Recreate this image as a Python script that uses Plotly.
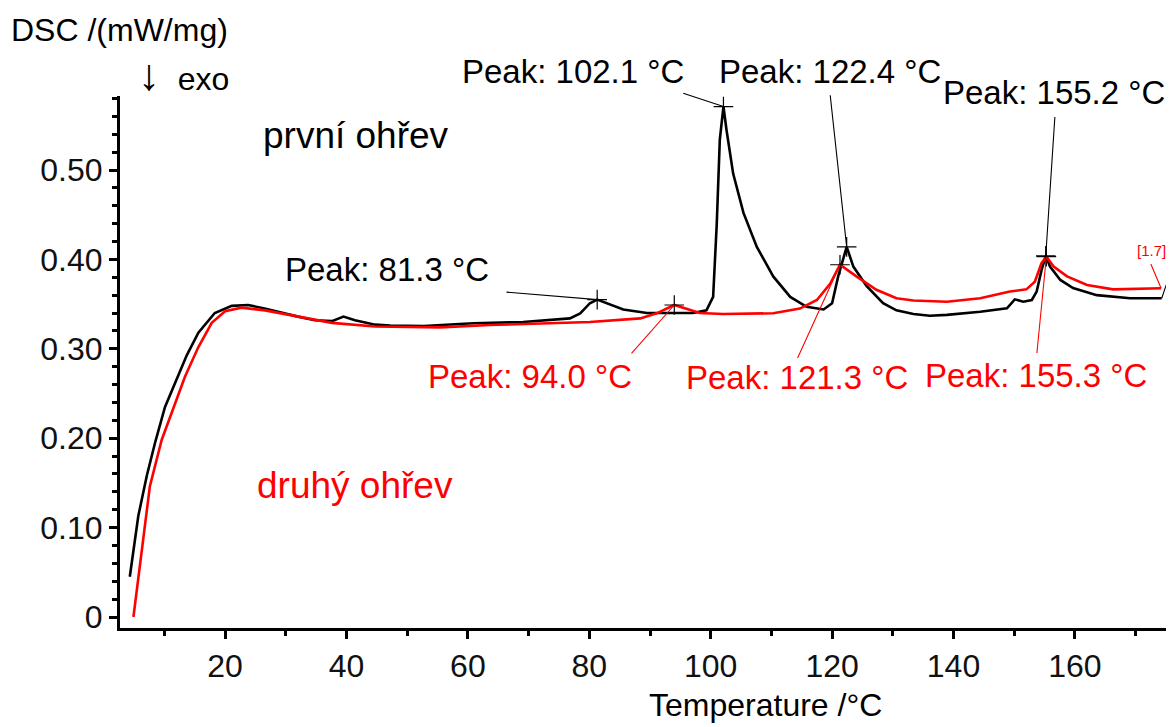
import plotly.graph_objects as go

# ---------------- data ----------------
black_T = [4.3, 5.7, 7.1, 8.5, 10.1, 11.8, 13.7, 15.6, 18.3, 21.1, 23.8, 26.5, 29.3, 32.0,
           34.8, 37.6, 39.5, 41.4, 44.7, 47.2, 52.7, 60.9, 69.1, 76.8, 78.5, 80.1, 81.3,
           82.9, 85.6, 89.5, 92.7, 97.1, 99.3, 100.4, 101.0, 101.5, 102.1, 102.6, 103.7,
           105.4, 107.6, 110.3, 113.1, 115.8, 118.6, 120.0, 121.0, 122.4, 123.5, 125.7,
           128.4, 130.6, 133.4, 136.1, 138.9, 144.4, 148.8, 150.1, 151.5, 152.9, 153.7,
           154.5, 155.2, 155.9, 157.6, 159.7, 163.6, 169.1, 174.3]
black_v = [0.045, 0.113, 0.158, 0.196, 0.235, 0.263, 0.293, 0.318, 0.340, 0.348, 0.349, 0.345,
           0.340, 0.336, 0.332, 0.331, 0.336, 0.332, 0.327, 0.326, 0.3255, 0.3285, 0.330,
           0.334, 0.3397, 0.351, 0.355, 0.351, 0.344, 0.340, 0.3397, 0.340, 0.343, 0.358,
           0.44, 0.534, 0.571, 0.545, 0.496, 0.452, 0.414, 0.381, 0.358, 0.347, 0.344,
           0.351, 0.381, 0.414, 0.392, 0.370, 0.351, 0.343, 0.339, 0.337, 0.338, 0.3415,
           0.3453, 0.3553, 0.3527, 0.3546, 0.364, 0.388, 0.404, 0.392, 0.377, 0.368, 0.360,
           0.3565, 0.3565]

red_T = [4.9, 6.3, 7.6, 9.55, 11.5, 13.4, 15.6, 17.8, 20.0, 22.7, 26.6, 32.1, 37.6, 44.7,
         47.2, 55.4, 63.6, 71.9, 80.1, 88.4, 91.1, 94.0, 96.0, 98.2, 102.0, 110.3, 114.7,
         117.5, 119.7, 121.3, 124.0, 127.3, 130.6, 133.4, 138.9, 144.4, 149.3, 152.0, 153.4,
         154.5, 155.3, 156.5, 158.7, 162.0, 166.3, 174.2]
red_v = [0.0, 0.079, 0.146, 0.198, 0.235, 0.269, 0.302, 0.329, 0.342, 0.346, 0.343, 0.336,
         0.329, 0.325, 0.3247, 0.324, 0.3266, 0.3285, 0.330, 0.334, 0.3397, 0.349, 0.345,
         0.340, 0.339, 0.3397, 0.345, 0.3546, 0.373, 0.394, 0.381, 0.366, 0.3565, 0.354,
         0.3527, 0.3565, 0.364, 0.3665, 0.375, 0.3957, 0.403, 0.392, 0.381, 0.3714,
         0.3665, 0.3677]

black_peak_T = [81.3, 102.1, 122.4, 155.2]
black_peak_v = [0.355, 0.571, 0.414, 0.404]
red_peak_T = [94.0, 121.3, 155.3]
red_peak_v = [0.349, 0.394, 0.403]

x_ticks = [20, 40, 60, 80, 100, 120, 140, 160]
y_ticks = [0, 0.10, 0.20, 0.30, 0.40, 0.50]
y_ticktext = ["0", "0.10", "0.20", "0.30", "0.40", "0.50"]

# -------------- layout geometry (reference-image pixels) --------------
OFF = 8                      # page body margin of the html page
REF_W, REF_H = 1174, 727
AX_L, AX_R, AX_T, AX_B = 120, 1174, 96, 628   # plot-area edges in reference pixels
W, H = REF_W - OFF, REF_H - OFF
L, R, T, B = AX_L - OFF, W - (AX_R - OFF), AX_T - OFF, H - (AX_B - OFF)


def px2T(px):
    return (px - 103.7) / 6.07


def py2v(py):
    return (617 - py) / 894


def T2px(t):
    return 103.7 + 6.07 * t


def v2py(v):
    return 617 - 894 * v


def pxx(px):
    return (px - AX_L) / (AX_R - AX_L)


def pyy(py):
    return (AX_B - py) / (AX_B - AX_T)


FONT = "Liberation Sans, Arial, sans-serif"
FS_TICK = 32
FS_PEAK = 33
FS_LBL = 37
FS_AX = 32

fig = go.Figure()
fig.add_trace(go.Scatter(x=black_T, y=black_v, mode="lines",
                         line=dict(color="black", width=2.6), hoverinfo="skip",
                         showlegend=False))
fig.add_trace(go.Scatter(x=red_T, y=red_v, mode="lines",
                         line=dict(color="#ff0000", width=2.6), hoverinfo="skip",
                         showlegend=False))
fig.add_trace(go.Scatter(x=black_peak_T + red_peak_T, y=black_peak_v + red_peak_v,
                         mode="markers",
                         marker=dict(symbol="cross-thin", size=14,
                                     line=dict(color="black", width=1.2)),
                         hoverinfo="skip", showlegend=False, cliponaxis=False))

annotations = []

# leader lines: arrow from a data point (tip) to the leader start (tail, pixels)
leaders = [
    (505, 292, black_peak_T[0], black_peak_v[0], "black"),
    (681.7, 92.7, black_peak_T[1], black_peak_v[1], "black"),
    (830, 93.3, black_peak_T[2], black_peak_v[2], "black"),
    (1055, 115, black_peak_T[3], black_peak_v[3], "black"),
    (630, 355, red_peak_T[0], red_peak_v[0], "#ff0000"),
    (796.7, 360, red_peak_T[1], red_peak_v[1], "#ff0000"),
    (1036.7, 355, red_peak_T[2], red_peak_v[2], "#ff0000"),
    (1150, 262, red_T[-1], red_v[-1], "#ff0000"),
    (1172, 268, black_T[-1], black_v[-1], "black"),
]
for sx, sy, pt, pv, c in leaders:
    annotations.append(dict(x=pt, y=pv, xref="x", yref="y", text=" ",
                            font=dict(size=1), showarrow=True, arrowhead=0,
                            arrowwidth=1.1, arrowcolor=c, standoff=0, startstandoff=0,
                            ax=sx - T2px(pt), ay=sy - v2py(pv)))


def add_text(txt, px, py, color="black", size=FS_PEAK):
    annotations.append(dict(text=txt, x=pxx(px), y=pyy(py), xref="paper", yref="paper",
                            showarrow=False, xanchor="center", yanchor="middle",
                            font=dict(family=FONT, size=size, color=color)))


add_text("Peak: 81.3 °C", 387, 269)
add_text("Peak: 102.1 °C", 573, 72)
add_text("Peak: 122.4 °C", 830, 72)
add_text("Peak: 155.2 °C", 1054, 93)
add_text("Peak: 94.0 °C", 530, 376, "#ff0000")
add_text("Peak: 121.3 °C", 797, 377, "#ff0000")
add_text("Peak: 155.3 °C", 1036, 375, "#ff0000")
add_text("[1.7]", 1151, 250, "#ff0000", 15)
add_text("první ohřev", 356, 135, "black", FS_LBL)
add_text("druhý ohřev", 355, 485, "#ff0000", FS_LBL)
add_text("DSC /(mW/mg)", 119, 30, "black", FS_AX)
add_text("<span style='font-size:44px'>↓</span>  exo", 183, 74, "black", FS_AX)
add_text("Temperature /°C", 765, 705, "black", FS_AX)

fig.update_layout(
    width=W, height=H,
    margin=dict(l=L, r=R, t=T, b=B, pad=0, autoexpand=False),
    paper_bgcolor="white", plot_bgcolor="white",
    font=dict(family=FONT, size=FS_TICK, color="black"),
    annotations=annotations,
    showlegend=False,
)
fig.update_xaxes(
    range=[px2T(AX_L), px2T(AX_R)], tickvals=x_ticks, ticks="outside", ticklen=8,
    tickwidth=2.5, tickcolor="black", showline=True, linewidth=3, linecolor="black",
    showgrid=False, zeroline=False, automargin=False,
    tickfont=dict(family=FONT, size=FS_TICK, color="#111"),
    minor=dict(dtick=10, tick0=0, ticks="outside", ticklen=5, tickwidth=2.5,
               tickcolor="black", showgrid=False),
)
fig.update_yaxes(
    range=[py2v(AX_B), py2v(AX_T)], tickvals=y_ticks, ticktext=y_ticktext, ticks="outside",
    ticklen=8, tickwidth=2.5, tickcolor="black", showline=True, linewidth=3,
    linecolor="black", showgrid=False, zeroline=False, automargin=False,
    tickfont=dict(family=FONT, size=FS_TICK, color="#111"),
    minor=dict(dtick=0.02, tick0=0, ticks="outside", ticklen=5, tickwidth=2.5,
               tickcolor="black", showgrid=False),
)

fig.write_html("out.html")
